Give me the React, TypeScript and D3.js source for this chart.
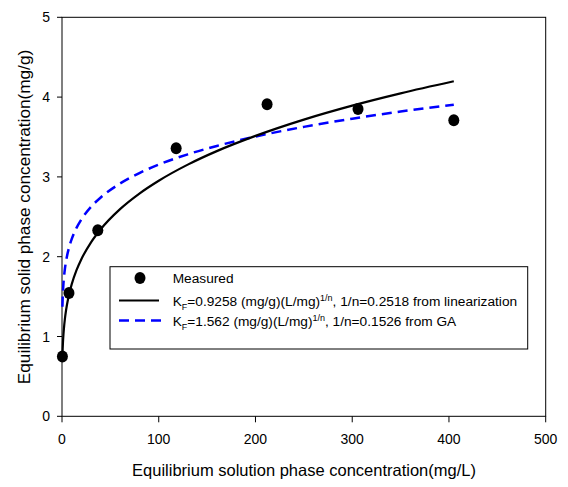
import React from "react";
import * as d3 from "d3";

const measuredX = [0.43, 7.2, 37, 118, 212, 306, 405];
const measuredY = [0.75, 1.545, 2.33, 3.36, 3.91, 3.85, 3.71];

const curveX = [0.43, 0.7, 1, 1.5, 2, 3, 4, 5, 7, 10, 15, 20, 30, 40, 60, 80, 100, 130, 160, 200, 250, 300, 350, 405];
const linY = [0.749, 0.846, 0.926, 1.025, 1.102, 1.221, 1.313, 1.388, 1.511, 1.653, 1.831, 1.969, 2.18, 2.344, 2.596, 2.791, 2.952, 3.154, 3.323, 3.514, 3.718, 3.893, 4.047, 4.198];
const gaY = [1.373, 1.479, 1.562, 1.662, 1.736, 1.847, 1.93, 1.997, 2.102, 2.22, 2.361, 2.467, 2.625, 2.742, 2.917, 3.048, 3.154, 3.283, 3.388, 3.506, 3.627, 3.73, 3.819, 3.905];

const xTicks = [0, 100, 200, 300, 400, 500];
const yTicks = [0, 1, 2, 3, 4, 5];

const FONT = "'Liberation Sans', Arial, sans-serif";

export default function App() {
  const W = 568, H = 487;
  const left = 62, right = 545.7, top = 17.3, bottom = 416.3;
  const x = d3.scaleLinear().domain([0, 500]).range([left, right]);
  const y = d3.scaleLinear().domain([0, 5]).range([bottom, top]);
  const line = d3.line<[number, number]>().x(d => x(d[0])).y(d => y(d[1])).curve(d3.curveMonotoneX);
  const linPts = curveX.map((c, i) => [c, linY[i]] as [number, number]);
  const gaPts = curveX.map((c, i) => [c, gaY[i]] as [number, number]);

  const lgX = 110, lgY = 266.7, lgW = 417.7, lgH = 82.3;
  const fs = 13.7;

  return (
    <svg width={W} height={H} style={{ position: "absolute", left: 0, top: 0 }} fontFamily={FONT}>
      <rect x={0} y={0} width={W} height={H} fill="#fff" />
      <rect x={left} y={top} width={right - left} height={bottom - top} fill="none" stroke="#000" strokeWidth={1} />
      {xTicks.map(t => (
        <g key={"x" + t}>
          <line x1={x(t)} x2={x(t)} y1={bottom} y2={bottom + 6} stroke="#000" />
          <text x={x(t)} y={444} fontSize={14} textAnchor="middle" fill="#000">{t}</text>
        </g>
      ))}
      {yTicks.map(t => (
        <g key={"y" + t}>
          <line x1={left - 5} x2={left} y1={y(t)} y2={y(t)} stroke="#000" />
          <text x={50} y={y(t) + 5} fontSize={14} textAnchor="end" fill="#000">{t}</text>
        </g>
      ))}
      <text x={304} y={476} fontSize={16.5} textAnchor="middle" fill="#000">Equilibrium solution phase concentration(mg/L)</text>
      <text transform={`translate(30,217) rotate(-90)`} fontSize={17.2} textAnchor="middle" fill="#000">Equilibrium solid phase concentration(mg/g)</text>

      <path d={line(gaPts) || ""} fill="none" stroke="#0000ff" strokeWidth={2.5} strokeDasharray="10,6" />
      <path d={line(linPts) || ""} fill="none" stroke="#000" strokeWidth={2.2} />
      {measuredX.map((c, i) => (
        <ellipse key={i} cx={x(c)} cy={y(measuredY[i])} rx={5.5} ry={6} fill="#000" />
      ))}

      <rect x={lgX} y={lgY} width={lgW} height={lgH} fill="#fff" stroke="#000" strokeWidth={1} />
      <ellipse cx={140} cy={278} rx={5.5} ry={6} fill="#000" />
      <text x={172.7} y={283} fontSize={fs} fill="#000">Measured</text>
      <line x1={119} x2={159} y1={300.5} y2={300.5} stroke="#000" strokeWidth={2.2} />
      <text x={172.7} y={305.5} fontSize={fs} fill="#000">
        K<tspan fontSize={9} dy={4}>F</tspan><tspan dy={-4}>=0.9258 (mg/g)(L/mg)</tspan><tspan fontSize={9} dy={-5}>1/n</tspan><tspan dy={5}>, 1/n=0.2518 from linearization</tspan>
      </text>
      <line x1={119} x2={161} y1={320.5} y2={320.5} stroke="#0000ff" strokeWidth={2.5} strokeDasharray="10,6" />
      <text x={172.7} y={325.5} fontSize={fs} fill="#000">
        K<tspan fontSize={9} dy={4}>F</tspan><tspan dy={-4}>=1.562 (mg/g)(L/mg)</tspan><tspan fontSize={9} dy={-5}>1/n</tspan><tspan dy={5}>, 1/n=0.1526 from GA</tspan>
      </text>
    </svg>
  );
}
